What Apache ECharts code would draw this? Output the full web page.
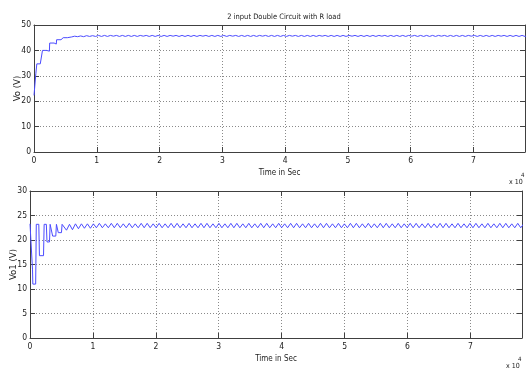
<!DOCTYPE html>
<html>
<head>
<meta charset="utf-8">
<script src="https://cdn.jsdelivr.net/npm/echarts@6/dist/echarts.min.js"></script>
<style>
html,body{margin:0;padding:0;background:#fff;}
#c{width:527px;height:374px;}
</style>
</head>
<body>
<div id="c"></div>
<script>
// ---------- data (x in units of 10^4 s) ----------
var title = '2 input Double Circuit with R load';
var xLabelName = 'Time in Sec';
var yNameTop = 'Vo (V)';
var yNameBottom = 'Vo1 (V)';
var xTicks = [0, 1, 2, 3, 4, 5, 6, 7];
var xMax = 7.82;
var yTicksTop = [0, 10, 20, 30, 40, 50];
var yTicksBottom = [0, 5, 10, 15, 20, 25, 30];

// start-up transient of Vo: [time, volts]
var voTransient = [
  [0, 22.3], [0.025, 22.3], [0.03, 31.0], [0.045, 34.7], [0.1, 34.7], [0.105, 34.1],
  [0.13, 34.1], [0.135, 40.0], [0.2, 40.0], [0.21, 39.7], [0.245, 39.7], [0.25, 42.9],
  [0.32, 42.9], [0.33, 42.5], [0.355, 42.5], [0.36, 44.2], [0.43, 44.2], [0.44, 43.8],
  [0.46, 43.8], [0.465, 45.0], [0.53, 45.0], [0.54, 44.9], [0.56, 44.9]
];
// steady-state ripple of Vo, sampled every half ripple period from t = 0.6
var voRipple = [
  45.3,45.6,45.4,45.7,45.4,45.8,45.5,45.8,45.5,45.9,
  45.5,45.9,45.5,45.9,45.6,45.9,45.5,45.9,45.5,45.9,
  45.5,45.9,45.5,45.9,45.6,45.9,45.5,45.9,45.5,45.9,
  45.5,45.9,45.5,45.9,45.6,45.9,45.5,45.9,45.5,45.9,
  45.5,45.9,45.5,45.9,45.6,45.9,45.5,45.9,45.5,45.9,
  45.5,45.9,45.5,45.9,45.6,45.9,45.5,45.9,45.5,45.9,
  45.5,45.9,45.5,45.9,45.6,45.9,45.5,45.9,45.5,45.9,
  45.5,45.9,45.5,45.9,45.6,45.9,45.5,45.9,45.5,45.9,
  45.5,45.9,45.5,45.9,45.6,45.9,45.5,45.9,45.5,45.9,
  45.5,45.9,45.5,45.9,45.6,45.9,45.5,45.9,45.5,45.9,
  45.5,45.9,45.5,45.9,45.6,45.9,45.5,45.9,45.5,45.9,
  45.5,45.9,45.5,45.9,45.6,45.9,45.5,45.9,45.5,45.9,
  45.5,45.9,45.5,45.9,45.6,45.9,45.5,45.9,45.5,45.9,
  45.5,45.9,45.5,45.9,45.6,45.9,45.5,45.9,45.5,45.9,
  45.5,45.9,45.5,45.9,45.6,45.9,45.5,45.9,45.5,45.9,
  45.5,45.9,45.5,45.9,45.6,45.9,45.5,45.9,45.5,45.9
];
var voRippleStart = 0.6;

// start-up transient of Vo1: [time, volts]
var vo1Transient = [
  [0, 23.3], [0.02, 23.3], [0.04, 13.9], [0.045, 11.0], [0.09, 11.0], [0.1, 23.2],
  [0.14, 23.2], [0.15, 16.8], [0.215, 16.8], [0.225, 23.2], [0.26, 23.2], [0.27, 19.6],
  [0.31, 19.6], [0.32, 23.2], [0.35, 23.2], [0.36, 20.8], [0.41, 20.8], [0.42, 23.2],
  [0.44, 23.2], [0.45, 21.5], [0.5, 21.5], [0.51, 23.2], [0.54, 23.2]
];
// steady-state ripple of Vo1, sampled every half ripple period from t = 0.58
var vo1Ripple = [
  22.0,23.2,22.1,23.3,22.3,23.3,22.4,23.3,22.4,23.3,
  22.5,23.4,22.5,23.3,22.5,23.4,22.5,23.4,22.5,23.3,
  22.5,23.4,22.5,23.3,22.5,23.4,22.5,23.4,22.5,23.3,
  22.5,23.4,22.5,23.3,22.5,23.4,22.5,23.4,22.5,23.3,
  22.5,23.4,22.5,23.3,22.5,23.4,22.5,23.4,22.5,23.3,
  22.5,23.4,22.5,23.3,22.5,23.4,22.5,23.4,22.5,23.3,
  22.5,23.4,22.5,23.3,22.5,23.4,22.5,23.4,22.5,23.3,
  22.5,23.4,22.5,23.3,22.5,23.4,22.5,23.4,22.5,23.3,
  22.5,23.4,22.5,23.3,22.5,23.4,22.5,23.4,22.5,23.3,
  22.5,23.4,22.5,23.3,22.5,23.4,22.5,23.4,22.5,23.3,
  22.5,23.4,22.5,23.3,22.5,23.4,22.5,23.4,22.5,23.3,
  22.5,23.4,22.5,23.3,22.5,23.4,22.5,23.4,22.5,23.3,
  22.5,23.4,22.5,23.3,22.5,23.4,22.5,23.4,22.5,23.3,
  22.5,23.4,22.5,23.3,22.5,23.4,22.5,23.4,22.5,23.3,
  22.5,23.4,22.5,23.3,22.5,23.4,22.5,23.4,22.5,23.3,
  22.5,23.4,22.5,23.3,22.5,23.4,22.5,23.4,22.5,23.3
];
var vo1RippleStart = 0.58;
var rippleHalfPeriod = 0.0475;

// ---------- build ----------
function build(trans, ripple, t0) {
  var out = trans.slice();
  for (var i = 0; i < ripple.length; i++) out.push([t0 + i * rippleHalfPeriod, ripple[i]]);
  return out;
}
var voData = build(voTransient, voRipple, voRippleStart);
var vo1Data = build(vo1Transient, vo1Ripple, vo1RippleStart);

var FONT = "'Liberation Sans Narrow','DejaVu Sans Condensed','Liberation Sans',sans-serif";
var FRAME = '#404040';
var LINE = '#4b4bff';

function xBottom(gi, ticks) {
  return {
    type: 'value', gridIndex: gi, position: 'bottom', min: 0, max: xMax, interval: 1,
    name: xLabelName, nameLocation: 'middle', nameGap: 17, nameMoveOverlap: false,
    nameTextStyle: { fontFamily: FONT, fontSize: 8, color: '#222' },
    axisLine: { onZero: false, lineStyle: { color: FRAME, width: 1 } },
    axisTick: { inside: true, length: 5, lineStyle: { color: FRAME } },
    axisLabel: { fontFamily: FONT, fontSize: 8.5, color: '#222', margin: 4, showMaxLabel: false,
      formatter: function (v) { return ticks.indexOf(v) >= 0 ? String(v) : ''; } },
    splitLine: { show: true, lineStyle: { color: '#8a8a8a', type: [1, 2], width: 1 } }
  };
}
function xTop(gi) {
  return {
    type: 'value', gridIndex: gi, position: 'top', min: 0, max: xMax, interval: 1,
    axisLine: { onZero: false, lineStyle: { color: FRAME, width: 1 } },
    axisTick: { inside: true, length: 5, lineStyle: { color: FRAME } },
    axisLabel: { show: false }, splitLine: { show: false }
  };
}
function yLeft(gi, ticks, name) {
  var step = ticks[1] - ticks[0];
  return {
    type: 'value', gridIndex: gi, position: 'left', min: ticks[0], max: ticks[ticks.length - 1], interval: step,
    name: name, nameLocation: 'middle', nameGap: 11, nameRotate: 90, nameMoveOverlap: false,
    nameTextStyle: { fontFamily: FONT, fontSize: 9.5, color: '#222' },
    axisLine: { show: true, onZero: false, lineStyle: { color: FRAME, width: 1 } },
    axisTick: { show: true, inside: true, length: 5, lineStyle: { color: FRAME } },
    axisLabel: { fontFamily: FONT, fontSize: 8.5, color: '#222', margin: 3 },
    splitLine: { show: true, lineStyle: { color: '#8a8a8a', type: [1, 2], width: 1 } }
  };
}
function yRight(gi, ticks) {
  var step = ticks[1] - ticks[0];
  return {
    type: 'value', gridIndex: gi, position: 'right', min: ticks[0], max: ticks[ticks.length - 1], interval: step,
    axisLine: { show: true, onZero: false, lineStyle: { color: FRAME, width: 1 } },
    axisTick: { show: true, inside: true, length: 5, lineStyle: { color: FRAME } },
    axisLabel: { show: false }, splitLine: { show: false }
  };
}

var chart = echarts.init(document.getElementById('c'), null, { renderer: 'canvas' });
chart.setOption({
  backgroundColor: '#ffffff',
  animation: false,
  title: {
    text: title, left: 279, top: 8, textAlign: 'center',
    textStyle: { fontFamily: FONT, fontSize: 7.5, fontWeight: 'normal', color: '#222' }
  },
  grid: [
    { left: 34, top: 25, width: 491, height: 127, outerBoundsMode: 'none', containLabel: false },
    { left: 30, top: 191, width: 492, height: 147, outerBoundsMode: 'none', containLabel: false }
  ],
  xAxis: [xBottom(0, xTicks), xTop(0), xBottom(1, xTicks), xTop(1)],
  yAxis: [yLeft(0, yTicksTop, yNameTop), yRight(0, yTicksTop), yLeft(1, yTicksBottom, yNameBottom), yRight(1, yTicksBottom)],
  series: [
    { type: 'line', xAxisIndex: 0, yAxisIndex: 0, data: voData, showSymbol: false, clip: true,
      lineStyle: { color: LINE, width: 1 } },
    { type: 'line', xAxisIndex: 2, yAxisIndex: 2, data: vo1Data, showSymbol: false, clip: true,
      lineStyle: { color: LINE, width: 1 } }
  ],
  graphic: [
    { type: 'text', left: 509, top: 179, style: { text: 'x 10', fontFamily: FONT, fontSize: 7, fill: '#222' } },
    { type: 'text', left: 521, top: 172, style: { text: '4', fontFamily: FONT, fontSize: 6, fill: '#222' } },
    { type: 'text', left: 506, top: 363, style: { text: 'x 10', fontFamily: FONT, fontSize: 7, fill: '#222' } },
    { type: 'text', left: 518, top: 356, style: { text: '4', fontFamily: FONT, fontSize: 6, fill: '#222' } }
  ]
});
</script>
</body>
</html>
